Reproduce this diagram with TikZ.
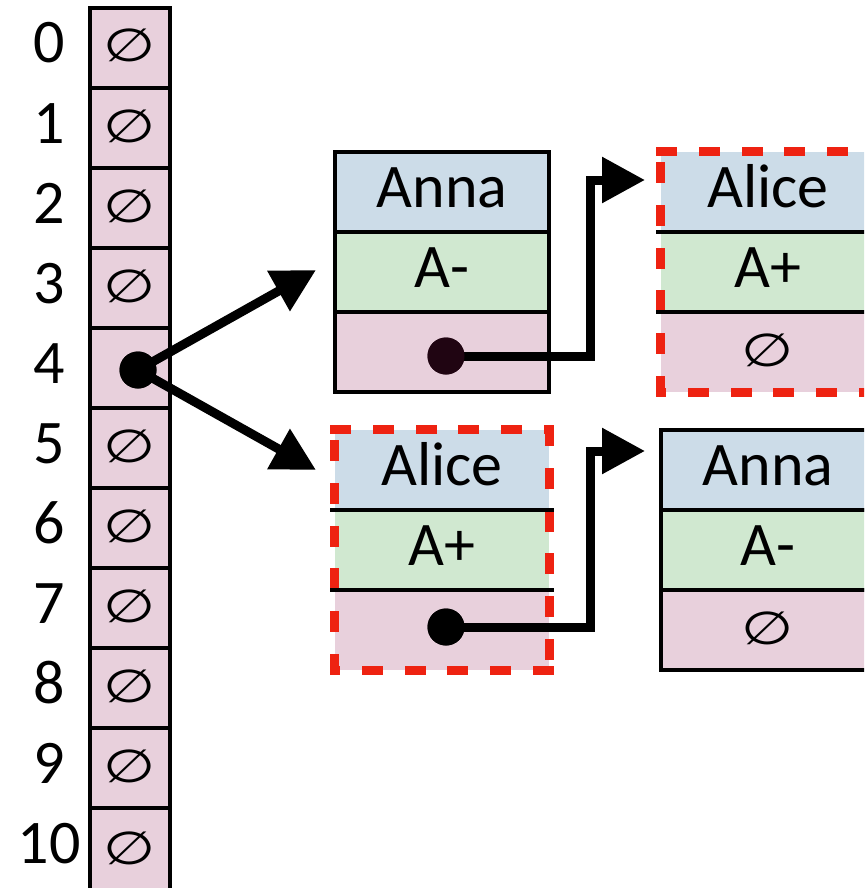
\documentclass[tikz,border=0pt]{standalone}
\usepackage{fontspec}
\setmainfont{Carlito}
\newfontfamily\symfont{DejaVu Sans}
\usetikzlibrary{arrows.meta,calc}
\definecolor{bluef}{RGB}{204,220,232}
\definecolor{greenf}{RGB}{208,232,208}
\definecolor{pinkf}{RGB}{232,208,220}
\definecolor{redd}{RGB}{238,34,17}
\definecolor{dotc}{RGB}{32,5,18}
\newcommand{\nullsym}{\raisebox{1pt}{\scalebox{1.3}[1]{∅}}}
\begin{document}
\begin{tikzpicture}[x=1pt,y=-1pt,
  cell/.style={draw=black, line width=4pt, fill=pinkf, minimum width=80pt, minimum height=80pt,
    inner sep=0pt, text height=40pt, text depth=10pt, font=\symfont\fontsize{46}{46}\selectfont},
  idx/.style={font=\fontsize{62}{62}\selectfont, anchor=base, inner sep=0pt},
  field/.style={minimum width=214pt, minimum height=80pt, inner sep=0pt, text height=40pt,
    text depth=10pt, font=\fontsize{62}{62}\selectfont},
  namef/.style={field, fill=bluef},
  gradef/.style={field, fill=greenf},
  linkf/.style={field, fill=pinkf},
  nullf/.style={field, fill=pinkf, font=\symfont\fontsize{46}{46}\selectfont},
  solidbox/.style={draw=black, line width=4pt},
  sepline/.style={draw=black, line width=4pt},
  reddash/.style={draw=redd, line width=9pt, line cap=rect, dash pattern=on 12pt off 30.7pt},
  conn/.style={draw=black, line width=9pt, -{Triangle[length=43pt,width=44pt]}},
  dotnode/.style={circle, fill=black, minimum size=37pt, inner sep=0pt}
]
\useasboundingbox (0,0) rectangle (864,888);
\clip (0,0) rectangle (864,888);

% hash table column
\foreach \i in {0,1,2,3,5,6,7,8,9}{
  \node[cell] (c\i) at (130,48+80*\i) {\nullsym};
}
\node[cell] (c4) at (130,368) {};
\node[cell, minimum height=84pt] (c10) at (130,850) {\nullsym};
\foreach \i in {0,...,10}{
  \node[idx] (l\i) at (49,63+80*\i) {\i};
}

% upper-left record (Anna)
\node[namef, solidbox] (a1) at (442,192) {Anna};
\node[gradef, solidbox] (a2) at (442,272) {A-};
\node[linkf, solidbox] (a3) at (442,352) {};

% lower-left record (Alice, dashed)
\node[namef] (b1) at (442,470) {Alice};
\node[gradef] (b2) at (442,550) {A+};
\node[linkf] (b3) at (442,630) {};
\draw[reddash] (b1.north west) -- (b1.north east);
\draw[reddash] (b1.north east) -- (b3.south east);
\draw[reddash] (b3.south east) -- (b3.south west);
\draw[reddash] (b3.south west) -- (b1.north west);
\draw[sepline] ([xshift=-4.5pt]b1.south west) -- ([xshift=4.5pt]b1.south east);
\draw[sepline] ([xshift=-4.5pt]b2.south west) -- ([xshift=4.5pt]b2.south east);

% upper-right record (Alice, dashed)
\node[namef] (r1) at (768,192) {Alice};
\node[gradef] (r2) at (768,272) {A+};
\node[nullf] (r3) at (768,352) {\nullsym};
\draw[reddash] (r1.north west) -- (r1.north east);
\draw[reddash] (r1.north east) -- (r3.south east);
\draw[reddash] (r3.south east) -- (r3.south west);
\draw[reddash] (r3.south west) -- (r1.north west);
\draw[sepline] ([xshift=-4.5pt]r1.south west) -- ([xshift=4.5pt]r1.south east);
\draw[sepline] ([xshift=-4.5pt]r2.south west) -- ([xshift=4.5pt]r2.south east);

% lower-right record (Anna)
\node[namef, solidbox] (s1) at (768,470) {Anna};
\node[gradef, solidbox] (s2) at (768,550) {A-};
\node[nullf, solidbox] (s3) at (768,630) {\nullsym};

% pointers
\node[dotnode] (d0) at (138,370) {};
\node[dotnode, fill=dotc] (d1) at (446,356) {};
\node[dotnode] (d2) at (446,627) {};
\coordinate (t0a) at (316,270);
\coordinate (t0b) at (316,470);
\coordinate (t1) at (645,180);
\coordinate (t2) at (645,451);

\draw[conn] (d0.center) -- (t0a);
\draw[conn] (d0.center) -- (t0b);
\draw[conn] (d1.center) -| ([xshift=-55pt]t1) -- (t1);
\draw[conn] (d2.center) -| ([xshift=-55pt]t2) -- (t2);
\node[dotnode] at (d0) {};
\node[dotnode, fill=dotc] at (d1) {};
\node[dotnode] at (d2) {};
\end{tikzpicture}
\end{document}
